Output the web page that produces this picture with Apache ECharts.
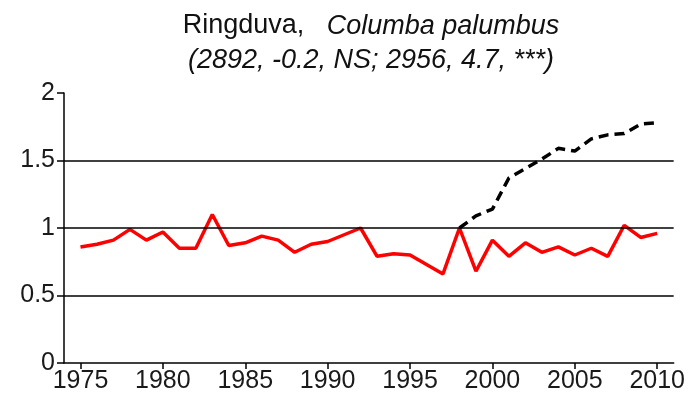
<!DOCTYPE html>
<html>
<head>
<meta charset="utf-8">
<script src="https://cdn.jsdelivr.net/npm/echarts@6/dist/echarts.min.js"></script>
<style>html,body{margin:0;padding:0;background:#fff;}#c{width:688px;height:405px;}</style>
</head>
<body>
<div id="c"></div>
<script>
const years = [1975,1976,1977,1978,1979,1980,1981,1982,1983,1984,1985,1986,1987,1988,1989,1990,1991,1992,1993,1994,1995,1996,1997,1998,1999,2000,2001,2002,2003,2004,2005,2006,2007,2008,2009,2010];
const redValues = [0.86,0.88,0.91,0.99,0.91,0.97,0.85,0.85,1.10,0.87,0.89,0.94,0.91,0.82,0.88,0.90,0.95,1.00,0.79,0.81,0.80,0.73,0.66,1.00,0.68,0.91,0.79,0.89,0.82,0.86,0.80,0.85,0.79,1.02,0.93,0.96];
const blackYears = [1998,1999,2000,2001,2002,2003,2004,2005,2006,2007,2008,2009,2010];
const blackValues = [1.00,1.09,1.14,1.37,1.44,1.51,1.59,1.57,1.66,1.69,1.70,1.77,1.78];
const xTicks = [1975,1980,1985,1990,1995,2000,2005,2010];
const gridLevels = [0.5,1,1.5];

const chart = echarts.init(document.getElementById('c'));
const font = 'Liberation Sans, Arial, sans-serif';
chart.setOption({
  animation: false,
  backgroundColor: '#fff',
  title: {
    text: '{n|Ringduva,   }{i|Columba palumbus}\n{i|(2892, -0.2, NS; 2956, 4.7, ***)}',
    left: 366, top: 4, textAlign: 'center',
    textStyle: {
      fontWeight: 'normal',
      rich: {
        n: {fontSize: 27, fontFamily: font, fontWeight: 'normal', color: '#111', lineHeight: 34},
        i: {fontSize: 27, fontFamily: font, fontWeight: 'normal', fontStyle: 'italic', color: '#111', lineHeight: 34}
      }
    }
  },
  grid: {left: 64, right: 13, top: 93, bottom: 42},
  xAxis: {
    type: 'value', min: 1974, max: 2011,
    axisLine: {show: true, lineStyle: {color: '#000', width: 1.5}},
    axisTick: {show: true, customValues: xTicks, length: 6, lineStyle: {color: '#000', width: 1.5}},
    axisLabel: {customValues: xTicks, formatter: v => String(v), fontSize: 25, fontFamily: font, color: '#1a1a1a', margin: 6},
    splitLine: {show: false}
  },
  yAxis: {
    type: 'value', min: 0, max: 2, interval: 0.5,
    axisLine: {show: true, lineStyle: {color: '#000', width: 1.5}},
    axisTick: {show: true, length: 7, lineStyle: {color: '#000', width: 1.5}},
    axisLabel: {fontSize: 25, fontFamily: font, color: '#1a1a1a', margin: 9},
    splitLine: {show: false}
  },
  series: [
    {
      type: 'line', data: years.map((y, i) => [y, redValues[i]]),
      symbol: 'none', lineStyle: {color: '#ff0000', width: 3.5}, z: 3,
      markLine: {
        silent: true, symbol: 'none', label: {show: false},
        lineStyle: {color: '#000', width: 1.5, type: 'solid'},
        data: gridLevels.map(v => ({yAxis: v}))
      }
    },
    {
      type: 'line', data: blackYears.map((y, i) => [y, blackValues[i]]),
      symbol: 'none', lineStyle: {color: '#000', width: 3.5, type: [10, 6]}, z: 4
    }
  ]
});
</script>
</body>
</html>
